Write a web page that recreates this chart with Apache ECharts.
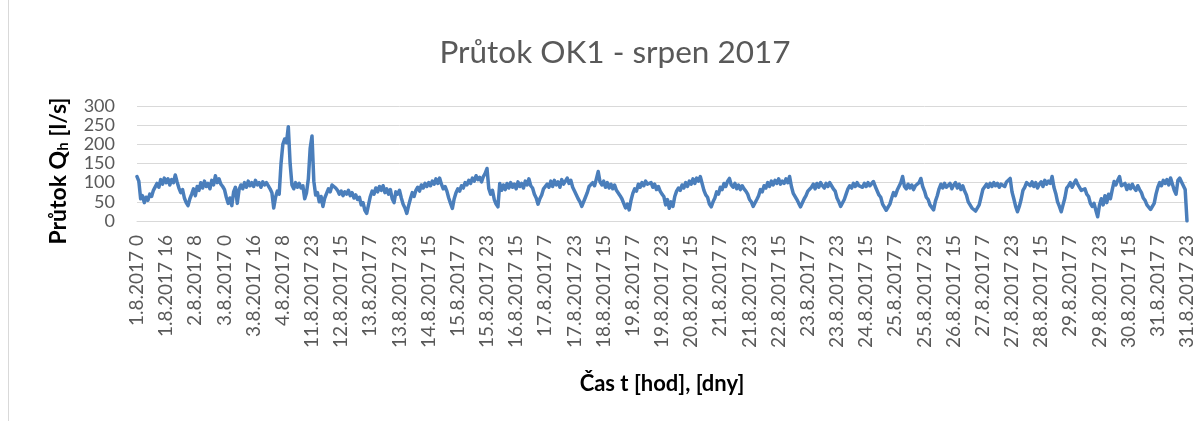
<!DOCTYPE html>
<html>
<head>
<meta charset="utf-8">
<script src="https://cdn.jsdelivr.net/npm/echarts@6/dist/echarts.min.js"></script>
<style>html,body{margin:0;padding:0;background:#fff}#c{width:1203px;height:421px}</style>
</head>
<body>
<div id="c"></div>
<script>
// Time axis: hourly samples 1.8.2017 0 .. 4.8.2017 23, then 11.8.2017 23 .. 31.8.2017 23
const firstDays = [1, 2, 3, 4];
const secondStart = { day: 11, hour: 23 };
const lastDay = 31;

// Flow values Q_h [l/s], one per hour
const flow1to4 = [
  116,104,58,66,48,62,54,70,64,80,76,98,88,108,96,112,100,110,94,108,100,120,102,86,
  74,82,60,48,40,58,70,84,66,90,80,100,86,104,90,98,84,106,94,118,100,110,96,90,
  82,62,46,60,40,76,88,46,82,94,84,100,88,104,92,100,90,106,94,100,88,102,94,100,
  96,84,74,34,62,78,70,150,200,214,204,246,150,94,84,100,88,98,86,92,58,74,110,190
];
const flow11 = [222];
const flow12to16 = [
  104,68,74,50,64,38,60,72,84,76,94,98,86,80,70,78,66,76,70,80,66,74,60,68,
  56,62,42,48,28,20,42,64,78,70,86,76,90,80,92,74,84,70,82,58,48,76,70,80,
  60,44,34,20,40,58,74,64,80,88,78,94,86,98,90,100,92,104,96,110,98,112,96,84,
  90,78,60,46,33,58,74,84,78,92,86,100,94,106,98,112,104,118,108,114,102,116,124,137,
  84,70,80,56,44,37,98,80,94,82,98,86,100,88,96,84,102,90,98,86,104,94,110,92
];
const flow17to21 = [
  86,70,60,44,58,68,84,80,96,88,104,90,106,94,102,88,108,96,100,112,98,106,88,78,
  74,58,50,38,37,62,74,90,86,100,92,110,129,102,94,104,88,100,86,96,84,94,80,76,
  66,58,46,34,44,29,54,72,84,78,96,88,100,92,104,96,92,100,88,96,82,90,78,70,
  64,42,56,33,50,38,64,78,86,80,94,86,100,90,104,96,110,98,112,104,116,98,80,68,
  62,44,37,50,60,76,70,88,82,98,90,104,111,94,88,98,84,94,82,92,84,78,70,56
];
const flow22to26 = [
  50,38,33,56,66,82,76,92,86,100,90,104,94,106,98,110,96,104,98,110,100,116,90,72,
  76,56,46,37,42,58,66,78,74,88,96,84,98,88,100,92,86,98,90,100,92,84,78,60,
  50,38,33,56,70,84,92,86,98,90,100,92,96,88,98,90,100,92,96,103,90,86,68,62,
  44,40,28,24,44,60,74,66,80,84,100,116,90,84,96,86,94,82,92,96,100,111,90,78,
  62,56,42,40,29,52,66,84,96,86,98,88,90,98,84,94,100,86,96,82,92,78,68,50
];
const flow27to31 = [
  46,34,32,26,24,42,62,82,86,96,88,98,90,100,92,98,88,96,100,90,102,98,111,76,
  58,38,24,38,56,80,88,100,104,92,102,90,100,86,96,102,90,106,96,104,98,116,88,72,
  50,38,24,42,60,86,92,100,88,98,107,96,94,80,78,84,70,64,46,38,46,28,11,42,
  58,42,66,48,70,58,82,103,94,106,116,92,90,98,82,94,84,96,86,80,92,82,74,60,
  54,42,40,30,29,46,70,88,100,92,106,98,108,94,112,116,80,70,106,112,102,104,82,0
];

const yTicks = { min: 0, max: 300, step: 50 };

// Build category labels "d.8.2017 h"
const categories = [];
firstDays.forEach(d => { for (let h = 0; h < 24; h++) categories.push(d + '.8.2017 ' + h); });
categories.push(secondStart.day + '.8.2017 ' + secondStart.hour);
for (let d = secondStart.day + 1; d <= lastDay; d++) {
  for (let h = 0; h < 24; h++) categories.push(d + '.8.2017 ' + h);
}
const values = [].concat(flow1to4, flow11, flow12to16, flow17to21, flow22to26, flow27to31);

const chart = echarts.init(document.getElementById('c'), null, { renderer: 'canvas' });
const txt = '#595959';
chart.setOption({
  animation: false,
  backgroundColor: '#ffffff',
  title: {
    text: 'Průtok OK1 - srpen 2017',
    left: 610, top: 32, textAlign: 'center',
    textStyle: { fontFamily: 'Lato', fontSize: 31.5, fontWeight: 'normal', color: txt }
  },
  graphic: [{
    type: 'line', shape: { x1: 8.5, y1: 0, x2: 8.5, y2: 421 },
    style: { stroke: '#d9d9d9', lineWidth: 1 }
  }, {
    type: 'text', x: 59, y: 171, rotation: Math.PI / 2,
    style: {
      text: 'Průtok Q{sub|h} [l/s]',
      fontFamily: 'Lato', fontSize: 23, fontWeight: 'bold', fill: '#000',
      align: 'center', verticalAlign: 'middle',
      rich: { sub: { fontFamily: 'Lato', fontSize: 15, fontWeight: 'bold', fill: '#000', padding: [9, 0, 0, 0] } }
    }
  }],
  grid: { left: 137, right: 16, top: 106, bottom: 200, containLabel: false },
  xAxis: {
    type: 'category',
    data: categories,
    boundaryGap: false,
    name: 'Čas t [hod], [dny]',
    nameLocation: 'middle',
    nameGap: 152,
    nameTextStyle: { fontFamily: 'Lato', fontSize: 22, fontWeight: 'bold', color: '#000' },
    axisLine: { show: true, lineStyle: { color: '#d9d9d9', width: 1 } },
    axisTick: { show: false },
    axisLabel: { interval: 15, rotate: 90, margin: 14, fontFamily: 'Lato', fontSize: 19, color: txt },
    splitLine: { show: false }
  },
  yAxis: {
    type: 'value',
    min: yTicks.min, max: yTicks.max, interval: yTicks.step,
    axisLine: { show: false },
    axisTick: { show: false },
    axisLabel: { margin: 22, fontFamily: 'Lato', fontSize: 18, color: txt },
    splitLine: { lineStyle: { color: '#d9d9d9', width: 1 } }
  },
  series: [{
    type: 'line',
    data: values,
    showSymbol: false,
    symbol: 'none',
    lineStyle: { color: '#4a7ebb', width: 3.5, join: 'round', cap: 'round' },
    itemStyle: { color: '#4a7ebb' }
  }]
});
</script>
</body>
</html>
